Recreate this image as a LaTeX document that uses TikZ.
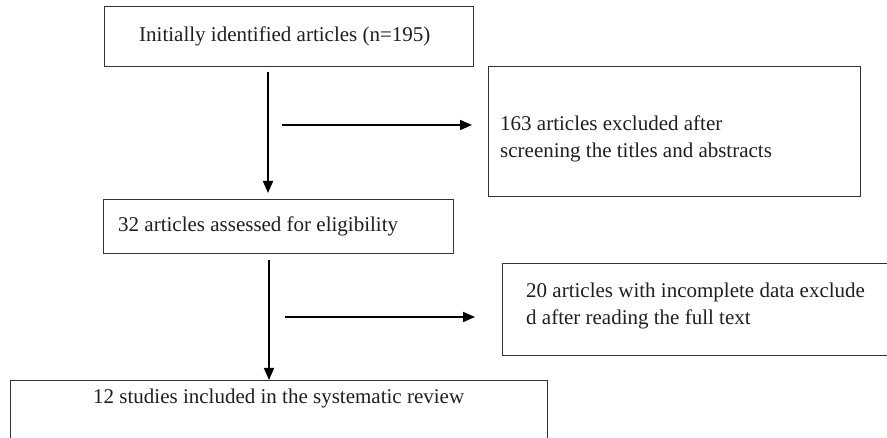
\documentclass[tikz,border=0pt]{standalone}
\usepackage{fontspec}
\setmainfont{Liberation Serif}
\usetikzlibrary{arrows.meta,calc}
\begin{document}
\begin{tikzpicture}[x=1pt,y=-1pt,
  box/.style={draw=black!80, line width=1.2pt, anchor=north west, inner sep=0pt},
  txt/.style={font=\fontsize{21}{27}\selectfont, anchor=west, inner sep=0pt, align=left, text=black!88},
  arr/.style={line width=1.7pt, -{Triangle[length=12pt,width=10pt]}}]
\useasboundingbox (0,0) rectangle (887,438);
\clip (0,0) rectangle (887,438);
\fill[white] (0,0) rectangle (887,438);
% boxes
\node[box, minimum width=369pt, minimum height=60pt] (b1) at (104,6) {};
\node[box, minimum width=350pt, minimum height=54pt] (b2) at (103,199) {};
\node[box, minimum width=372pt, minimum height=130pt] (b3) at (488,66) {};
\node[box, minimum width=420pt, minimum height=92pt] (b4) at (502,263) {};
\node[box, minimum width=537pt, minimum height=100pt] (b5) at (10,380) {};
% texts
\node[txt] (t1) at (139,36) {Initially identified articles (n=195)};
\node[txt] (t2) at (118,226) {32 articles assessed for eligibility};
\node[txt] (t3) at (500,139) {163 articles excluded after\\screening the titles and abstracts};
\node[txt] (t4) at (526,306) {20 articles with incomplete data exclude\\d after reading the full text};
\node[txt] (t5) at (93,398) {12 studies included in the systematic review};
% connector ends
\coordinate (v1s) at (268,72);
\coordinate (v1e) at (268,193);
\coordinate (h1s) at (282,125);
\coordinate (h1e) at (472,125);
\coordinate (v2s) at (269,260);
\coordinate (v2e) at (269,380);
\coordinate (h2s) at (285,317);
\coordinate (h2e) at (475,317);
\draw[arr] (v1s) -- (v1e);
\draw[arr] (h1s) -- (h1e);
\draw[arr] (v2s) -- (v2e);
\draw[arr] (h2s) -- (h2e);
\end{tikzpicture}
\end{document}
